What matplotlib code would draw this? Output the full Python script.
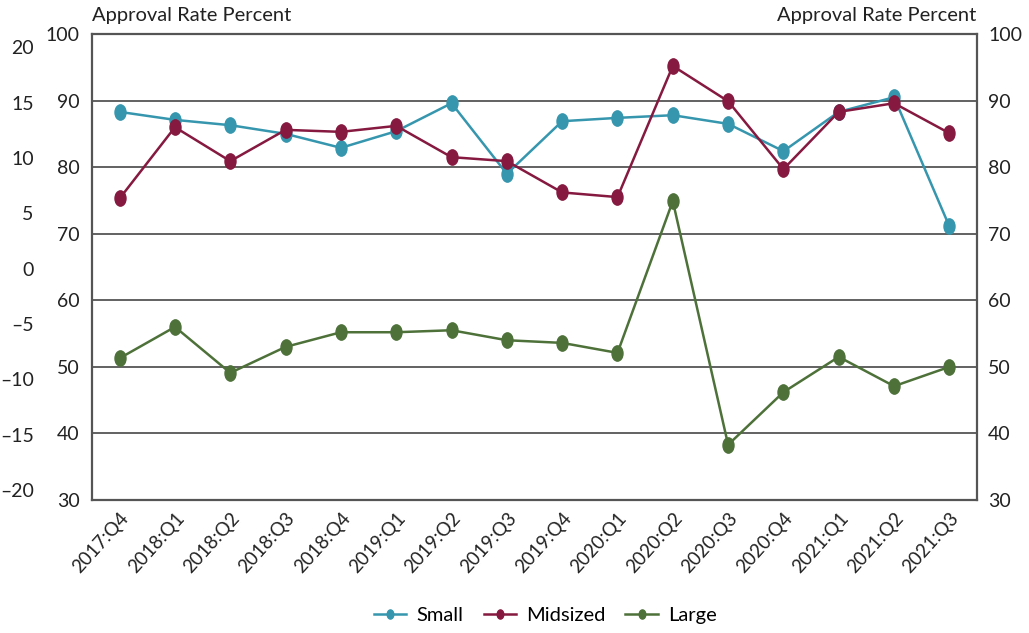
import matplotlib
matplotlib.use("Agg")
import matplotlib.pyplot as plt
from matplotlib.path import Path
from matplotlib.transforms import Affine2D

plt.rcParams['font.family'] = ['Lato', 'DejaVu Sans']

quarters = ['2017:Q4', '2018:Q1', '2018:Q2', '2018:Q3', '2018:Q4', '2019:Q1',
            '2019:Q2', '2019:Q3', '2019:Q4', '2020:Q1', '2020:Q2', '2020:Q3',
            '2020:Q4', '2021:Q1', '2021:Q2', '2021:Q3']
small = [88.3, 87.1, 86.3, 85.0, 82.9, 85.4, 89.6, 79.0,
         86.9, 87.4, 87.8, 86.5, 82.4, 88.3, 90.5, 71.1]
midsized = [75.3, 86.0, 80.9, 85.6, 85.3, 86.2, 81.5, 80.9,
            76.2, 75.5, 95.2, 89.9, 79.7, 88.3, 89.6, 85.1]
large = [51.3, 56.0, 49.1, 53.0, 55.2, 55.2, 55.5, 54.0,
         53.6, 52.1, 74.9, 38.3, 46.2, 51.5, 47.1, 50.0]

rate_ticks = [30, 40, 50, 60, 70, 80, 90, 100]
outer_ticks = [20, 15, 10, 5, 0, -5, -10, -15, -20]

colors = {'Small': '#3596ae', 'Midsized': '#85193f', 'Large': '#4d7139'}

# tall oval marker
oval = Path.unit_circle().transformed(Affine2D().scale(0.72, 1.0))

fig = plt.figure(figsize=(10.29, 6.33), dpi=100)
ax = fig.add_axes([0.0894, 0.2101, 0.8601, 0.7362])

x = range(len(quarters))
for name, vals in [('Small', small), ('Midsized', midsized), ('Large', large)]:
    ax.plot(x, vals, color=colors[name], lw=1.8, marker=oval, ms=11,
            label=name, zorder=3)

ax.set_xlim(-0.5, len(quarters) - 0.5)
ax.set_ylim(30, 100)
ax.set_yticks(rate_ticks)
ax.set_yticklabels([str(t) for t in rate_ticks])
ax.tick_params(axis='y', length=0, labelsize=14, pad=9, colors='#222222')
ax.set_xticks(list(x))
ax.set_xticklabels(quarters, rotation=48, ha='right', rotation_mode='anchor',
                   fontsize=13.5, color='#222222')
ax.tick_params(axis='x', length=0, pad=7)
for t in rate_ticks[1:-1]:
    ax.axhline(t, color='#555555', lw=1.3, zorder=1)
for s in ax.spines.values():
    s.set_color('#555555')
    s.set_linewidth(1.6)

# right-hand axis, same scale
axr = ax.twinx()
axr.set_ylim(30, 100)
axr.set_yticks(rate_ticks)
axr.set_yticklabels([str(t) for t in rate_ticks])
axr.tick_params(axis='y', length=0, labelsize=14, pad=8, colors='#222222')
for s in axr.spines.values():
    s.set_visible(False)

# outer left scale
axo = ax.twinx()
axo.yaxis.set_ticks_position('left')
axo.yaxis.set_label_position('left')
axo.set_ylim(-20.9, 21.2)
axo.set_yticks(outer_ticks)
axo.set_yticklabels([str(t).replace('-', '\u2013') for t in outer_ticks])
axo.tick_params(axis='y', length=0, labelsize=14, pad=42, colors='#222222')
for s in axo.spines.values():
    s.set_visible(False)

fig.text(0.0894, 0.967, 'Approval Rate Percent', fontsize=14.5, color='#222222',
         ha='left', va='baseline')
fig.text(0.949, 0.967, 'Approval Rate Percent', fontsize=14.5, color='#222222',
         ha='right', va='baseline')

fig.legend(loc='lower center', bbox_to_anchor=(0.53, -0.015), ncol=3,
           frameon=False, fontsize=14.5, handlelength=1.6, columnspacing=1.0,
           handletextpad=0.5, markerscale=0.6)

fig.savefig('out.png', dpi=100, facecolor='white')
